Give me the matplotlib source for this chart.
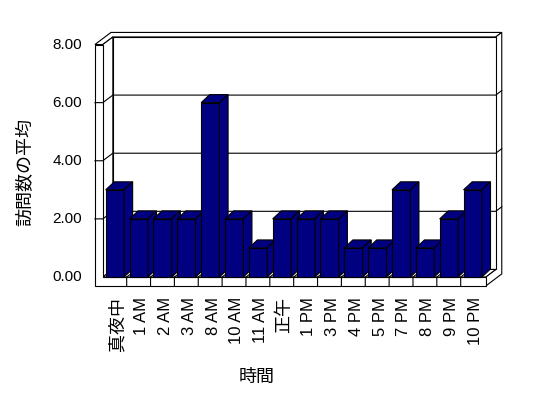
import matplotlib
matplotlib.use('Agg')
import matplotlib.pyplot as plt
from matplotlib.patches import Polygon

plt.rcParams['font.family'] = ['Liberation Sans', 'Noto Sans CJK JP']

# data
categories = ['真夜中', '1 AM', '2 AM', '3 AM', '8 AM', '10 AM', '11 AM', '正午',
              '1 PM', '3 PM', '4 PM', '5 PM', '7 PM', '8 PM', '9 PM', '10 PM']
visits = [3, 2, 2, 2, 6, 2, 1, 2, 2, 2, 1, 1, 3, 1, 2, 3]
yticks = [0, 2, 4, 6, 8]
ytick_labels = ['%.2f' % v for v in yticks]
ylabel = '訪問数の平均'
xlabel = '時間'

fig = plt.figure(figsize=(5.48, 3.98), dpi=100)
ax = fig.add_axes([0, 0, 1, 1])
# x in category units, y in value units
ax.set_xlim(-4.31, 18.66)
ax.set_ylim(-4.164, 9.532)
ax.axis('off')

n = len(categories)
ymax = yticks[-1]
dx, dy = 0.42, 0.26      # projection of one unit of depth
wall = 0.33              # left wall thickness
floor = 0.31             # floor thickness
back = 0.6               # back wall thickness (depth units)
right = n + 0.05
bdx, bdy = 0.36, 0.275   # bar depth
navy = '#000080'


def P(u, v, z=0):
    return (u + z * dx, v + z * dy)


def face(pts, fc='white', zo=1):
    ax.add_patch(Polygon(pts, closed=True, fc=fc, ec='black', lw=0.8,
                         zorder=zo, joinstyle='miter'))


# walls and floor
face([P(-wall, ymax, 0), P(0, ymax, 0), P(0, ymax, 1), P(right, ymax, 1),
      P(right, ymax, 1 + back), P(-wall, ymax, 1 + back)])
face([P(right, -floor, 0), P(right, 0, 0), P(right, 0, 1), P(right, ymax, 1),
      P(right, ymax, 1 + back), P(right, -floor, 1 + back)])
face([P(0, 0, 1), P(right, 0, 1), P(right, ymax, 1), P(0, ymax, 1)])
face([P(0, 0, 0), P(0, 0, 1), P(0, ymax, 1), P(0, ymax, 0)])
face([P(0, 0, 0), P(right, 0, 0), P(right, 0, 1), P(0, 0, 1)])
face([P(-wall, -floor, 0), P(right, -floor, 0), P(right, 0, 0), P(0, 0, 0),
      P(0, ymax, 0), P(-wall, ymax, 0)])

# gridlines
for v in yticks[1:-1]:
    pts = [P(-wall, v, 0), P(0, v, 0), P(0, v, 1), P(right, v, 1), P(right, v, 1 + back)]
    ax.plot([p[0] for p in pts], [p[1] for p in pts], color='black', lw=0.8, zorder=2)

# category dividers on the floor
for i in range(1, n):
    pts = [P(i, -floor, 0), P(i, 0, 0), P(i, 0, 1)]
    ax.plot([p[0] for p in pts], [p[1] for p in pts], color='black', lw=0.8, zorder=2)

# bars
for i, val in enumerate(visits):
    u0, u1 = i + 0.12, i + 0.89
    face([(u0, 0), (u1, 0), (u1, val), (u0, val)], navy, 3)
    face([(u0, val), (u1, val), (u1 + bdx, val + bdy), (u0 + bdx, val + bdy)], navy, 3)
    face([(u1, 0), (u1 + bdx, bdy), (u1 + bdx, val + bdy), (u1, val)], navy, 3)

# tick labels
for v, lab in zip(yticks, ytick_labels):
    ax.text(-wall - 0.55, v, lab, ha='right', va='center', fontsize=11)

for i, lab in enumerate(categories):
    fs = 13 if lab in ('真夜中', '正午') else 12
    ax.text(i + 0.62, -floor - 0.38, lab, rotation=90, ha='center', va='top', fontsize=fs)

fig.text(26 / 548, 1 - 172 / 398, ylabel, rotation=90, ha='center', va='center', fontsize=13)
fig.text(257 / 548, 1 - 377 / 398, xlabel, ha='center', va='center', fontsize=13)

fig.savefig('out.png', dpi=100)
